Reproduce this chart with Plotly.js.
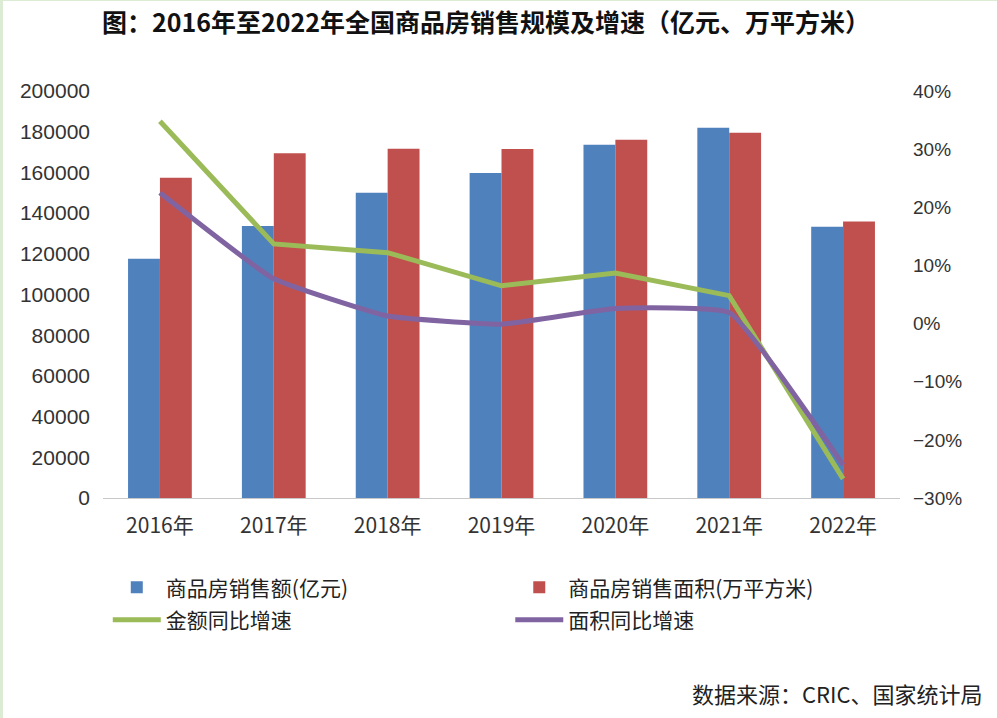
<!DOCTYPE html>
<html>
<head>
<meta charset="utf-8">
<script src="https://cdn.plot.ly/plotly-3.0.1.min.js"></script>
<style>
html,body{margin:0;padding:0;background:#fff;}
#wrap{width:997px;height:718px;box-sizing:border-box;border-left:3px solid #dcebd4;border-top:1px solid #dcebd4;position:relative;}
#chart{width:994px;height:717px;}
</style>
</head>
<body>
<div id="wrap"><div id="chart"></div></div>
<script>
const years = ['2016年','2017年','2018年','2019年','2020年','2021年','2022年'];
const salesAmount = [117627, 133701, 149973, 159725, 173613, 181930, 133308];
const salesArea = [157349, 169408, 171654, 171558, 176086, 179433, 135837];
const amountGrowth = [0.348, 0.137, 0.122, 0.065, 0.087, 0.048, -0.267];
const areaGrowth = [0.225, 0.077, 0.013, -0.001, 0.026, 0.019, -0.243];

const FONT = 'Liberation Sans, Noto Sans CJK SC, sans-serif';
const CJK = 'Noto Sans CJK SC, sans-serif';

const traces = [
  {type:'bar', x:years, y:salesAmount, name:'商品房销售额(亿元)', marker:{color:'#4F81BD'}, yaxis:'y', legend:'legend', legendgroup:'a', legendrank:1},
  {type:'bar', x:years, y:salesArea, name:'商品房销售面积(万平方米)', marker:{color:'#C0504D'}, yaxis:'y', legend:'legend2', legendgroup:'c', legendrank:1},
  {type:'scatter', mode:'lines', x:years, y:amountGrowth, name:'金额同比增速', line:{color:'#9BBB59', width:5}, yaxis:'y2', legend:'legend', legendgroup:'b', legendrank:2},
  {type:'scatter', mode:'lines', x:years, y:areaGrowth, name:'面积同比增速', line:{color:'#8064A2', width:5, shape:'spline', smoothing:0.35}, yaxis:'y2', legend:'legend2', legendgroup:'d', legendrank:2}
];

const legendBase = {orientation:'v', yanchor:'top', y:-0.17, xanchor:'left', itemwidth:48, font:{family:CJK, size:21, color:'#222'}, tracegroupgap:2, traceorder:'grouped', bgcolor:'rgba(0,0,0,0)'};

const layout = {
  width:994, height:717,
  margin:{l:100, r:97, t:90, b:220},
  paper_bgcolor:'#fff', plot_bgcolor:'#fff',
  font:{family:FONT, color:'#333', size:20},
  title:{text:'<b>图：2016年至2022年全国商品房销售规模及增速（亿元、万平方米）</b>', font:{family:CJK, size:25, color:'#111'}, x:0.486, xref:'container', y:0.969, yref:'container', yanchor:'middle'},
  barmode:'group', bargap:0.44, bargroupgap:0,
  xaxis:{showline:true, linecolor:'#c8c8c8', linewidth:1, ticks:'', showgrid:false, tickfont:{family:CJK, size:21, color:'#333'}, ticklabelstandoff:9},
  yaxis:{range:[0,200000], dtick:20000, tickformat:'d', showgrid:false, zeroline:false, showline:false, ticks:'', tickfont:{family:FONT, size:21, color:'#333'}, ticklabelstandoff:12},
  yaxis2:{overlaying:'y', side:'right', range:[-0.3,0.4], dtick:0.1, tickformat:'.0%', showgrid:false, zeroline:false, showline:false, ticks:'', tickfont:{family:FONT, size:19, color:'#333'}, ticklabelstandoff:12},
  legend:Object.assign({}, legendBase, {x:0.006}),
  legend2:Object.assign({}, legendBase, {x:0.511}),
  annotations:[
    {text:'数据来源：CRIC、国家统计局', xref:'paper', yref:'paper', x:1.107, y:-0.48, xanchor:'right', yanchor:'middle', showarrow:false, font:{family:CJK, size:22, color:'#222'}}
  ]
};

Plotly.newPlot('chart', traces, layout, {displayModeBar:false, staticPlot:true});
</script>
</body>
</html>
